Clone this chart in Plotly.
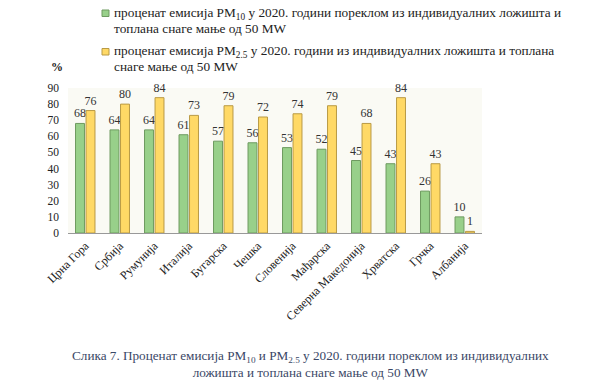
import plotly.graph_objects as go

countries = ["Црна Гора", "Србија", "Румунија", "Италија", "Бугарска", "Чешка",
             "Словенија", "Мађарска", "Северна Македонија", "Хрватска", "Грчка", "Албанија"]
pm10 = [68, 64, 64, 61, 57, 56, 53, 52, 45, 43, 26, 10]
pm25 = [76, 80, 84, 73, 79, 72, 74, 79, 68, 84, 43, 1]
yticks = [0, 10, 20, 30, 40, 50, 60, 70, 80, 90]

legend10 = ["проценат емисија PM<sub>10</sub> у 2020. години пореклом из индивидуалних ложишта и",
            "топлана снаге мање од 50 MW"]
legend25 = ["проценат емисија PM<sub>2.5</sub> у 2020. години из индивидуалних ложишта и топлана",
            "снаге мање од 50 MW"]
caption = ("Слика 7. Проценат емисија PM<sub>10</sub> и PM<sub>2.5</sub> у 2020. години пореклом из индивидуалних<br>"
           "ложишта и топлана снаге мање од 50 MW")

serif = "Liberation Serif"
green, green_line = "#98D08A", "#6E9A60"
yellow, yellow_line = "#FFD966", "#B99A45"

OFF = 8  # default page body margin
fig = go.Figure()
fig.add_bar(x=countries, y=pm10, name="PM10",
            marker=dict(color=green, line=dict(color=green_line, width=1)),
            text=pm10, textposition="outside", cliponaxis=False, constraintext="none",
            textfont=dict(family=serif, size=12, color="#333"))
fig.add_bar(x=countries, y=pm25, name="PM2.5",
            marker=dict(color=yellow, line=dict(color=yellow_line, width=1)),
            text=pm25, textposition="outside", cliponaxis=False, constraintext="none",
            textfont=dict(family=serif, size=12, color="#333"))

L, T, W, H = 68 - OFF, 88 - OFF, 414, 145
def px(x):
    return (x - OFF - L) / W
def py(y):
    return (T + H - (y - OFF)) / H

ann = [
    dict(text="<b>%</b>", x=px(57), y=py(67), xref="paper", yref="paper",
         xanchor="center", yanchor="middle",
         showarrow=False, font=dict(family=serif, size=12, color="#222")),
    dict(text=caption, x=px(310), y=py(363.5), xref="paper", yref="paper",
         xanchor="center", showarrow=False, yanchor="middle", align="center",
         font=dict(family=serif, size=13.2, color="#3A4766")),
]
shapes = []
for (lines, col, lc, ytop) in [(legend10, green, green_line, 13.5), (legend25, yellow, yellow_line, 52)]:
    shapes.append(dict(type="rect", xref="paper", yref="paper",
                       x0=px(102), x1=px(109), y0=py(ytop - 3.5), y1=py(ytop + 3),
                       fillcolor=col, line=dict(color=lc, width=1)))
    for i, ln in enumerate(lines):
        ann.append(dict(text=ln, x=px(112), y=py(ytop + 15 * i), xref="paper", yref="paper",
                        xanchor="left", yanchor="middle", showarrow=False,
                        font=dict(family=serif, size=13.3, color="#222")))

FW, FH = 605 - OFF, 389 - 2 * OFF
fig.update_layout(
    width=FW, height=FH,
    margin=dict(l=L, r=FW - L - W, t=T, b=FH - T - H, autoexpand=False),
    paper_bgcolor="white", plot_bgcolor="#FAFAF4",
    barmode="group", bargap=0.39, bargroupgap=0.15,
    font=dict(family=serif, size=11, color="#222"),
    showlegend=False,
    xaxis=dict(tickangle=-45, tickfont=dict(family=serif, size=12, color="#222"),
               showline=True, linecolor="#999", linewidth=1, ticks="", showgrid=False,
               automargin=False),
    yaxis=dict(range=[0, 90], tickvals=yticks, showgrid=False, zeroline=False,
               tickfont=dict(family=serif, size=11.5, color="#222"), showline=False,
               automargin=False, ticklabelstandoff=8),
    annotations=ann,
    shapes=shapes,
)
fig.write_html("out.html")
